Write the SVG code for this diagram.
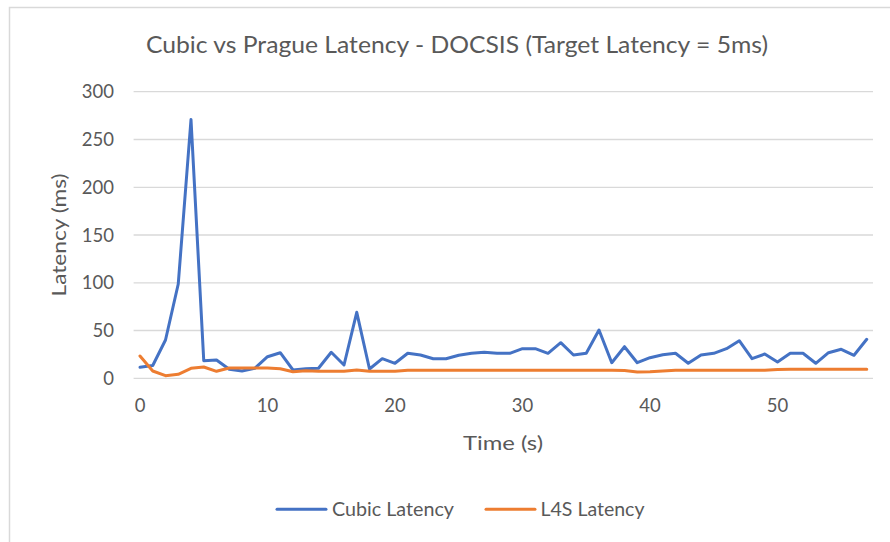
<svg xmlns="http://www.w3.org/2000/svg" width="890" height="542" viewBox="0 0 890 542">
  <style>
    text { font-family: Lato, "Open Sans", "Liberation Sans", sans-serif; fill: #595959; }
    .title { font-size: 22.5px; text-anchor: middle; }
    .tick { font-size: 18.5px; }
    .ytick { text-anchor: end; }
    .xtick { text-anchor: middle; }
    .axis-title { font-size: 20px; text-anchor: middle; }
    .legend { font-size: 20px; }
    .grid line { stroke: #d9d9d9; stroke-width: 1.3; }
    .series { fill: none; stroke-width: 3; stroke-linejoin: round; stroke-linecap: round; }
    .cubic { stroke: #4472c4; }
    .l4s { stroke: #ed7d31; }
  </style>

  <!-- chart area background and frame -->
  <rect x="0" y="0" width="890" height="542" fill="#ffffff"/>
  <path d="M9.5 542 V7.5 H890" fill="none" stroke="#d9d9d9" stroke-width="1.5"/>

  <g id="title">
    <text class="title" x="457" y="52.5" textLength="622" lengthAdjust="spacingAndGlyphs">Cubic vs Prague Latency - DOCSIS (Target Latency = 5ms)</text>
  </g>

  <!-- horizontal gridlines, 0..300 ms every 50 -->
  <g id="gridlines" class="grid">
    <line x1="133.6" y1="91.7" x2="873" y2="91.7"/>
    <line x1="133.6" y1="139.5" x2="873" y2="139.5"/>
    <line x1="133.6" y1="187.3" x2="873" y2="187.3"/>
    <line x1="133.6" y1="235" x2="873" y2="235"/>
    <line x1="133.6" y1="282.8" x2="873" y2="282.8"/>
    <line x1="133.6" y1="330.5" x2="873" y2="330.5"/>
    <line x1="133.6" y1="378.3" x2="873" y2="378.3"/>
  </g>

  <g id="y-axis">
    <text class="tick ytick" x="114" y="98.3">300</text>
    <text class="tick ytick" x="114" y="146.1">250</text>
    <text class="tick ytick" x="114" y="193.9">200</text>
    <text class="tick ytick" x="114" y="241.6">150</text>
    <text class="tick ytick" x="114" y="289.4">100</text>
    <text class="tick ytick" x="114" y="337.1">50</text>
    <text class="tick ytick" x="114" y="384.9">0</text>
    <text class="axis-title" transform="translate(66 235) rotate(-90)" textLength="123" lengthAdjust="spacingAndGlyphs">Latency (ms)</text>
  </g>

  <g id="x-axis">
    <text class="tick xtick" x="140" y="412">0</text>
    <text class="tick xtick" x="267.5" y="412">10</text>
    <text class="tick xtick" x="395" y="412">20</text>
    <text class="tick xtick" x="522.5" y="412">30</text>
    <text class="tick xtick" x="650" y="412">40</text>
    <text class="tick xtick" x="777.5" y="412">50</text>
    <text class="axis-title" x="503" y="450" textLength="80" lengthAdjust="spacingAndGlyphs">Time (s)</text>
  </g>

  <!-- data series, one point per second -->
  <g id="connectors">
    <polyline id="cubic-latency" class="series cubic" points="140,367.3 152.75,365.5 165.5,340 178.25,284 191,119.5 203.75,360.7 216.5,360 229.25,369.3 242,371 254.75,368.3 267.5,356.7 280.25,352.7 293,370 305.75,368.7 318.5,368.3 331.25,352.3 344,365 356.75,312.3 369.5,369 382.25,358.7 395,363.3 407.75,353.3 420.5,355 433.25,358.7 446,358.7 458.75,355.3 471.5,353.3 484.25,352.3 497,353.3 509.75,353.3 522.5,348.7 535.25,348.7 548,353.3 560.75,342.7 573.5,355 586.25,353.3 599,330 611.75,362.7 624.5,346.7 637.25,362.7 650,357.7 662.75,354.7 675.5,353.3 688.25,363.3 701,355 713.75,353.3 726.5,348.7 739.25,340.7 752,358.7 764.75,354 777.5,362 790.25,353.3 803,353.3 815.75,363.3 828.5,352.7 841.25,349.3 854,355.3 866.75,339.3"/>
    <polyline id="l4s-latency" class="series l4s" points="140,356 152.75,371 165.5,375.7 178.25,374.3 191,368.3 203.75,367 216.5,371.3 229.25,368 242,368 254.75,368 267.5,368 280.25,368.7 293,371.7 305.75,370.7 318.5,371.3 331.25,371.3 344,371.3 356.75,370 369.5,371.3 382.25,371.3 395,371.3 407.75,370.3 420.5,370.3 433.25,370.3 446,370.3 458.75,370.3 471.5,370.3 484.25,370.3 497,370.3 509.75,370.3 522.5,370.3 535.25,370.3 548,370.3 560.75,370.3 573.5,370.3 586.25,370.3 599,370.3 611.75,370.3 624.5,370.5 637.25,372 650,371.7 662.75,371 675.5,370.3 688.25,370.3 701,370.3 713.75,370.3 726.5,370.3 739.25,370.3 752,370.3 764.75,370.3 777.5,369.5 790.25,369.3 803,369.3 815.75,369.3 828.5,369.3 841.25,369.3 854,369.3 866.75,369.3"/>
  </g>

  <g id="legend">
    <line x1="277" y1="509.3" x2="326" y2="509.3" class="series cubic"/>
    <text class="legend" x="332" y="516" textLength="122" lengthAdjust="spacingAndGlyphs">Cubic Latency</text>
    <line x1="486" y1="509.3" x2="535" y2="509.3" class="series l4s"/>
    <text class="legend" x="540.5" y="516" textLength="104" lengthAdjust="spacingAndGlyphs">L4S Latency</text>
  </g>
</svg>
